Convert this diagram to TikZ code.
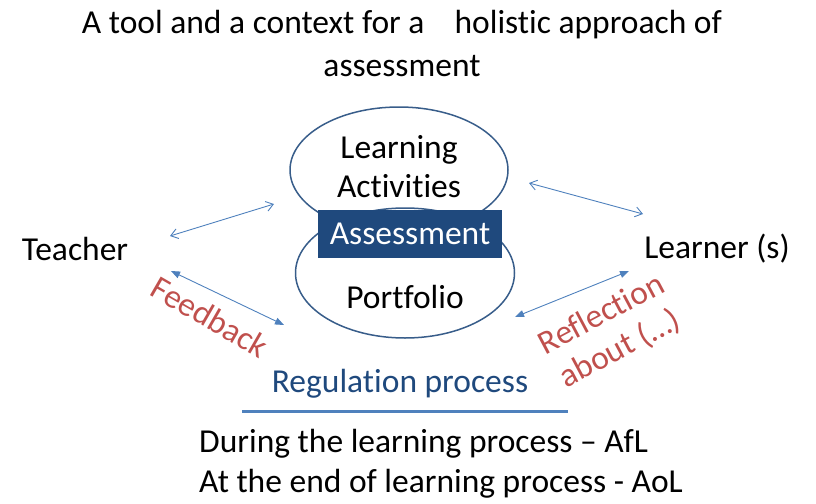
\documentclass[tikz,border=0pt]{standalone}
\usepackage{fontspec}
\setmainfont{Carlito}[RawFeature=-liga]
\usetikzlibrary{shapes.geometric,arrows.meta}
\definecolor{ellc}{HTML}{385D8A}
\definecolor{boxc}{HTML}{1F497D}
\definecolor{arrc}{HTML}{4F81BD}
\definecolor{redc}{HTML}{C0504D}
\tikzset{
  txt/.style={font=\fontsize{33.5}{39}\selectfont, inner sep=0pt, text=black},
  redtxt/.style={font=\fontsize{33.5}{39}\selectfont, inner sep=0pt, text=redc, align=center},
  oval/.style={ellipse, draw=ellc, line width=1.5pt, fill=white},
  openarr/.style={draw=arrc, line width=0.9pt, {Straight Barb[length=7pt,width=10pt]}-{Straight Barb[length=7pt,width=10pt]}},
  fillarr/.style={draw=arrc, line width=0.9pt, {Triangle[length=9pt,width=7pt]}-{Triangle[length=9pt,width=7pt]}},
}
\begin{document}
\begin{tikzpicture}[x=1pt,y=-1pt]
\useasboundingbox (0,0) rectangle (816,503);
% title
\node[txt] (t1) at (402,25) {A tool and a context for a\hspace{0.9em}holistic approach of};
\node[txt] (t2) at (402,66) {assessment};
% ellipses
\node[oval, minimum width=218pt, minimum height=126pt] (top) at (399,170) {};
\node[oval, minimum width=219pt, minimum height=130pt] (bot) at (405,273) {};
\node[txt, align=center] (la) at (399,167) {Learning\\Activities};
\node[txt] (pf) at (405,297) {Portfolio};
\node[fill=boxc, minimum width=184pt, minimum height=48pt, inner sep=0pt, text=white, font=\fontsize{33.5}{39}\selectfont] (as) at (410,234) {Assessment};
% side labels
\node[txt] (teacher) at (75,249) {Teacher};
\node[txt] (learner) at (717,249) {Learner (s)};
\node[redtxt, rotate=-30] (fb) at (210,317) {Feedback};
\node[redtxt, rotate=28] (rf) at (611,332) {Reflection\\about (\dots)};
% regulation
\node[font=\fontsize{33.5}{39}\selectfont, inner sep=0pt, text=boxc] (reg) at (400,384) {Regulation process};
\coordinate (l1) at (242,411);
\coordinate (l2) at (568,411);
\draw[draw=arrc, line width=3pt] (l1) -- (l2);
\node[txt, anchor=west] (d1) at (199,444) {During the learning process -- AfL};
\node[txt, anchor=west] (d2) at (199,484) {At the end of learning process - AoL};
% arrows
\coordinate (a1) at (170,236);
\coordinate (a2) at (274,204);
\coordinate (b1) at (171,271);
\coordinate (b2) at (284,325);
\coordinate (c1) at (529,183);
\coordinate (c2) at (643,214);
\coordinate (d1a) at (515,317);
\coordinate (d2a) at (629,271);
\draw[openarr] (a1) -- (a2);
\draw[fillarr] (b1) -- (b2);
\draw[openarr] (c1) -- (c2);
\draw[fillarr] (d1a) -- (d2a);
\end{tikzpicture}
\end{document}
